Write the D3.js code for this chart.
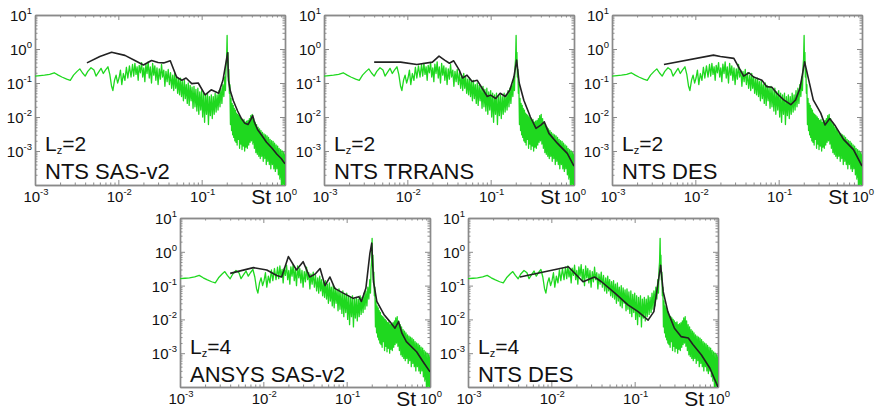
<!DOCTYPE html>
<html><head><meta charset="utf-8">
<script src="https://cdn.jsdelivr.net/npm/d3@7"></script>
<style>body{margin:0;background:#fff}svg{display:block;font-family:"Liberation Sans",Arial,sans-serif}</style>
</head><body>
<svg id="c" width="875" height="410"></svg>
<script>
// ---- data ----
const lzLabels = ["2", "2", "2", "4", "4"];
const modelLabels = ["NTS SAS-v2", "NTS TRRANS", "NTS DES", "ANSYS SAS-v2", "NTS DES"];
const xTickExps = [-3, -2, -1, 0];
const yTickExps = [1, 0, -1, -2, -3];

// reference spectrum (green), [St, PSD]
const green = [
[0.00100,0.16],[0.00115,0.165],[0.00130,0.17],[0.00150,0.18],[0.00170,0.20],[0.00190,0.17],[0.00210,0.15],[0.00240,0.13],[0.00265,0.12],[0.00290,0.17],[0.00320,0.22],[0.00345,0.26],[0.00370,0.20],[0.00400,0.16],[0.00430,0.22],[0.00470,0.28],[0.00510,0.24],[0.00540,0.16],[0.00580,0.21],[0.00620,0.27],[0.00660,0.19],[0.00700,0.24],[0.00750,0.30],[0.00790,0.18],[0.00830,0.08],[0.00860,0.06],[0.00900,0.12],[0.00940,0.17],[0.00980,0.10],[0.01020,0.14],[0.01060,0.24],[0.01100,0.09],[0.01150,0.19],[0.01200,0.12],[0.01250,0.29],[0.01300,0.14],[0.01360,0.32],[0.01420,0.15],[0.01480,0.35],
[0.0153,0.16],[0.0158,0.38],[0.0163,0.18],[0.0168,0.30],[0.0173,0.12],[0.0178,0.33],[0.0184,0.20],[0.0190,0.40],[0.0196,0.15],[0.0202,0.28],[0.0208,0.11],[0.0214,0.36],[0.0221,0.19],[0.0228,0.42],[0.0235,0.14],[0.0242,0.30],[0.0250,0.10],[0.0258,0.38],[0.0266,0.17],[0.0274,0.32],[0.0282,0.12],[0.0291,0.28],[0.0300,0.09],[0.0310,0.26],[0.0320,0.13],[0.0330,0.35],[0.0340,0.15],[0.0351,0.24],[0.0362,0.08],[0.0373,0.22],[0.0385,0.11],[0.0397,0.25],[0.0410,0.09],[0.0423,0.20],[0.0436,0.07],[0.0450,0.17],
[0.0462,0.06],[0.0475,0.19],[0.0488,0.07],[0.0501,0.15],[0.0515,0.05],[0.0529,0.13],[0.0543,0.045],[0.0558,0.14],[0.0573,0.04],[0.0588,0.11],[0.0604,0.03],[0.0620,0.12],[0.0637,0.035],[0.0654,0.09],[0.0672,0.025],[0.0690,0.10],[0.0708,0.022],[0.0727,0.085],[0.0747,0.03],[0.0767,0.075],[0.0788,0.018],[0.0809,0.08],[0.0831,0.02],[0.0853,0.065],[0.0876,0.015],[0.0900,0.07],[0.0924,0.012],[0.0949,0.055],[0.0975,0.016],[0.1001,0.06],[0.1028,0.010],[0.1056,0.05],[0.1084,0.007],[0.1113,0.045],[0.1143,0.012],[0.1174,0.05],[0.1206,0.006],[0.1238,0.04],[0.1272,0.011],[0.1306,0.045],[0.1341,0.009],[0.1377,0.04],[0.1414,0.012],[0.1452,0.05],[0.1491,0.014],[0.1531,0.045],[0.1573,0.016],[0.1615,0.06],[0.1659,0.02],[0.1703,0.07],[0.1749,0.025],[0.1796,0.09],[0.1845,0.04],[0.1894,0.15],
[0.1930,0.06],[0.1960,0.30],[0.1990,0.5],[0.2020,2.5],[0.2040,0.4],[0.2065,0.8],[0.2090,0.15],[0.2120,0.25],[0.2150,0.05],[0.2180,0.09],
[0.2215,0.006],[0.2250,0.035],[0.2285,0.004],[0.2320,0.025],[0.2355,0.003],[0.2390,0.022],[0.2425,0.0025],[0.2460,0.018],[0.2500,0.002],[0.2540,0.016],[0.2580,0.0018],[0.2620,0.013],[0.2665,0.0015],[0.2710,0.012],[0.2755,0.0022],[0.2800,0.011],[0.2850,0.0012],[0.2900,0.010],[0.2950,0.0016],[0.3000,0.009],[0.3050,0.0011],[0.3100,0.008],[0.3160,0.0014],[0.3220,0.0085],[0.3280,0.0010],[0.3340,0.007],[0.3400,0.0013],[0.3460,0.0075],[0.3530,0.0012],[0.3600,0.008],[0.3670,0.0015],[0.3740,0.009],[0.3810,0.0018],[0.3880,0.011],[0.3960,0.0020],[0.4040,0.012],[0.4120,0.0016],[0.4200,0.009],[0.4290,0.0012],[0.4380,0.007],[0.4470,0.0009],[0.4560,0.006],[0.4650,0.0008],[0.4750,0.005],[0.4850,0.0007],[0.4950,0.0045],[0.5050,0.0006],[0.5150,0.004],[0.5260,0.0007],[0.5370,0.0035],[0.5480,0.0005],[0.5600,0.0032],[0.5720,0.0006],[0.5840,0.003],[0.5960,0.0004],[0.6090,0.0028],[0.6220,0.0005],[0.6350,0.0025],[0.6480,0.0004],[0.6620,0.0022],[0.6760,0.0003],[0.6900,0.002],[0.7050,0.0004],[0.7200,0.0019],[0.7350,0.0003],[0.7500,0.0017],[0.7660,0.00025],[0.7820,0.0015],[0.7990,0.0003],[0.8160,0.0014],[0.8330,0.0002],[0.8500,0.0012],[0.8680,0.00015],[0.8870,0.0011],[0.9060,0.0001],[0.9250,0.001],[0.9440,0.00008],[0.9640,0.0009],[0.9850,0.00007],[1.0,0.0008]
];

// simulation spectra (black), [St, PSD]
const black1 = [[0.0042,0.39],[0.0060,0.6],[0.0083,0.8],[0.012,0.65],[0.016,0.45],[0.020,0.34],[0.025,0.46],[0.030,0.40],[0.035,0.39],[0.042,0.45],[0.050,0.15],[0.058,0.12],[0.065,0.14],[0.076,0.096],[0.091,0.10],[0.11,0.045],[0.13,0.063],[0.16,0.05],[0.18,0.12],[0.205,0.77],[0.21,0.12],[0.22,0.06],[0.24,0.03],[0.27,0.015],[0.30,0.009],[0.33,0.0065],[0.36,0.006],[0.39,0.0085],[0.41,0.011],[0.43,0.007],[0.47,0.0042],[0.52,0.003],[0.6,0.0018],[0.7,0.0012],[0.8,0.0008],[0.9,0.0006],[1.0,0.00042]];
const black2 = [[0.004,0.41],[0.0083,0.41],[0.013,0.35],[0.020,0.41],[0.024,0.62],[0.028,0.47],[0.032,0.38],[0.036,0.45],[0.042,0.24],[0.046,0.14],[0.052,0.17],[0.060,0.11],[0.069,0.12],[0.079,0.07],[0.091,0.04],[0.10,0.044],[0.115,0.035],[0.13,0.05],[0.15,0.04],[0.17,0.062],[0.19,0.15],[0.205,0.47],[0.22,0.1],[0.25,0.031],[0.30,0.01],[0.35,0.0046],[0.40,0.0058],[0.44,0.0072],[0.50,0.0033],[0.63,0.0017],[0.83,0.00085],[1.0,0.00036]];
const black3 = [[0.0042,0.35],[0.0165,0.66],[0.020,0.6],[0.029,0.53],[0.033,0.3],[0.038,0.16],[0.044,0.2],[0.050,0.15],[0.063,0.12],[0.072,0.078],[0.083,0.075],[0.095,0.05],[0.115,0.032],[0.14,0.023],[0.16,0.032],[0.18,0.07],[0.205,0.42],[0.23,0.12],[0.26,0.032],[0.32,0.013],[0.36,0.0058],[0.41,0.009],[0.48,0.0054],[0.60,0.0022],[0.79,0.0011],[1.0,0.00036]];
const black4 = [[0.004,0.23],[0.0076,0.34],[0.011,0.29],[0.0145,0.2],[0.0166,0.18],[0.020,0.72],[0.025,0.29],[0.030,0.51],[0.036,0.18],[0.042,0.22],[0.048,0.32],[0.055,0.1],[0.063,0.18],[0.072,0.083],[0.091,0.06],[0.12,0.042],[0.14,0.047],[0.15,0.034],[0.17,0.083],[0.19,0.9],[0.2,1.8],[0.21,0.13],[0.23,0.034],[0.28,0.014],[0.33,0.0086],[0.38,0.0055],[0.42,0.0086],[0.46,0.0039],[0.52,0.0022],[0.69,0.0011],[0.83,0.00055],[1.0,0.00028]];
const black5 = [[0.0042,0.18],[0.016,0.36],[0.024,0.13],[0.033,0.18],[0.040,0.13],[0.058,0.06],[0.083,0.027],[0.11,0.017],[0.145,0.0095],[0.17,0.017],[0.205,0.4],[0.22,0.066],[0.25,0.017],[0.30,0.0055],[0.36,0.0031],[0.44,0.0028],[0.50,0.0018],[0.63,0.0009],[0.80,0.00036],[1.0,0.0001]];
const blacks = [black1, black2, black3, black4, black5];

// ---- layout ----
const boxes = [
  {x0:35, x1:285, y0:15, y1:185},
  {x0:324, x1:574, y0:15, y1:185},
  {x0:612, x1:862, y0:15, y1:185},
  {x0:180, x1:430, y0:218, y1:387},
  {x0:468, x1:718, y0:218, y1:387}
];

const svg = d3.select("#c");
svg.append("rect").attr("width",875).attr("height",410).attr("fill","#fff");
const boxColor = "#8a8a8a";

boxes.forEach((b, i) => {
  const x = d3.scaleLog().domain([1e-3, 1]).range([b.x0, b.x1]);
  const y = d3.scaleLog().domain([1e-4, 1e1]).range([b.y1, b.y0]);
  const g = svg.append("g");
  const cid = "clip" + i;
  svg.append("clipPath").attr("id", cid).append("rect")
    .attr("x", b.x0).attr("y", b.y0).attr("width", b.x1 - b.x0).attr("height", b.y1 - b.y0);

  const xMajor = [1e-3, 1e-2, 1e-1, 1];
  const yMajor = [1e-4, 1e-3, 1e-2, 1e-1, 1, 10];
  const xMinor = [], yMinor = [];
  [1e-3,1e-2,1e-1].forEach(d => { for (let k = 2; k <= 9; k++) xMinor.push(d * k); });
  [1e-4,1e-3,1e-2,1e-1,1].forEach(d => { for (let k = 2; k <= 9; k++) yMinor.push(d * k); });

  const axes = [
    [d3.axisBottom(x), xMajor, xMinor, `translate(0,${b.y1})`],
    [d3.axisTop(x), xMajor, xMinor, `translate(0,${b.y0})`],
    [d3.axisLeft(y), yMajor, yMinor, `translate(${b.x0},0)`],
    [d3.axisRight(y), yMajor, yMinor, `translate(${b.x1},0)`]
  ];
  axes.forEach(([ax, maj, min, tr]) => {
    const a1 = g.append("g").attr("transform", tr)
      .call(ax.tickValues(maj).tickSizeInner(-5).tickSizeOuter(0).tickFormat(""));
    const a2 = g.append("g").attr("transform", tr)
      .call(ax.tickValues(min).tickSizeInner(-2.5).tickSizeOuter(0).tickFormat(""));
    [a1, a2].forEach(a => {
      a.selectAll("path").attr("stroke", boxColor).attr("stroke-width", 1.4);
      a.selectAll("line").attr("stroke", boxColor).attr("stroke-width", 1);
    });
  });

  const line = d3.line().x(d => x(d[0])).y(d => y(d[1]));
  const plot = g.append("g").attr("clip-path", `url(#${cid})`);
  plot.append("path").datum(green).attr("d", line)
    .attr("fill", "none").attr("stroke", "#1fd81f").attr("stroke-width", 1.3).attr("stroke-linejoin", "round");
  plot.append("path").datum(blacks[i]).attr("d", line)
    .attr("fill", "none").attr("stroke", "#222").attr("stroke-width", 1.6).attr("stroke-linejoin", "round");

  // y tick labels
  yTickExps.forEach(e => {
    const t = g.append("text").attr("x", b.x0 - 3).attr("y", y(Math.pow(10, e)) + 6)
      .attr("text-anchor", "end").attr("font-size", 15).attr("fill", "#111");
    t.append("tspan").text("10");
    t.append("tspan").attr("font-size", 9.5).attr("dy", -7).text(String(e));
  });
  // x tick labels
  xTickExps.forEach(e => {
    const t = g.append("text").attr("x", x(Math.pow(10, e)) + 1).attr("y", b.y1 + 17)
      .attr("text-anchor", "middle").attr("font-size", 15).attr("fill", "#111");
    t.append("tspan").text("10");
    t.append("tspan").attr("font-size", 9.5).attr("dy", -7).text(String(e));
  });
  // St label
  g.append("text").attr("x", b.x1 - 14).attr("y", b.y1 + 19).attr("text-anchor", "end")
    .attr("font-size", 21).attr("fill", "#111").text("St");
  // annotations
  const lz = g.append("text").attr("x", b.x0 + 10).attr("y", b.y0 + 136)
    .attr("font-size", 21).attr("fill", "#111");
  lz.append("tspan").text("L");
  lz.append("tspan").attr("font-size", 11).attr("dy", 3).text("z");
  lz.append("tspan").attr("dy", -3).text("=" + lzLabels[i]);
  g.append("text").attr("x", b.x0 + 10).attr("y", b.y0 + 164)
    .attr("font-size", 22).attr("fill", "#111").text(modelLabels[i]);
});
</script>
</body></html>
